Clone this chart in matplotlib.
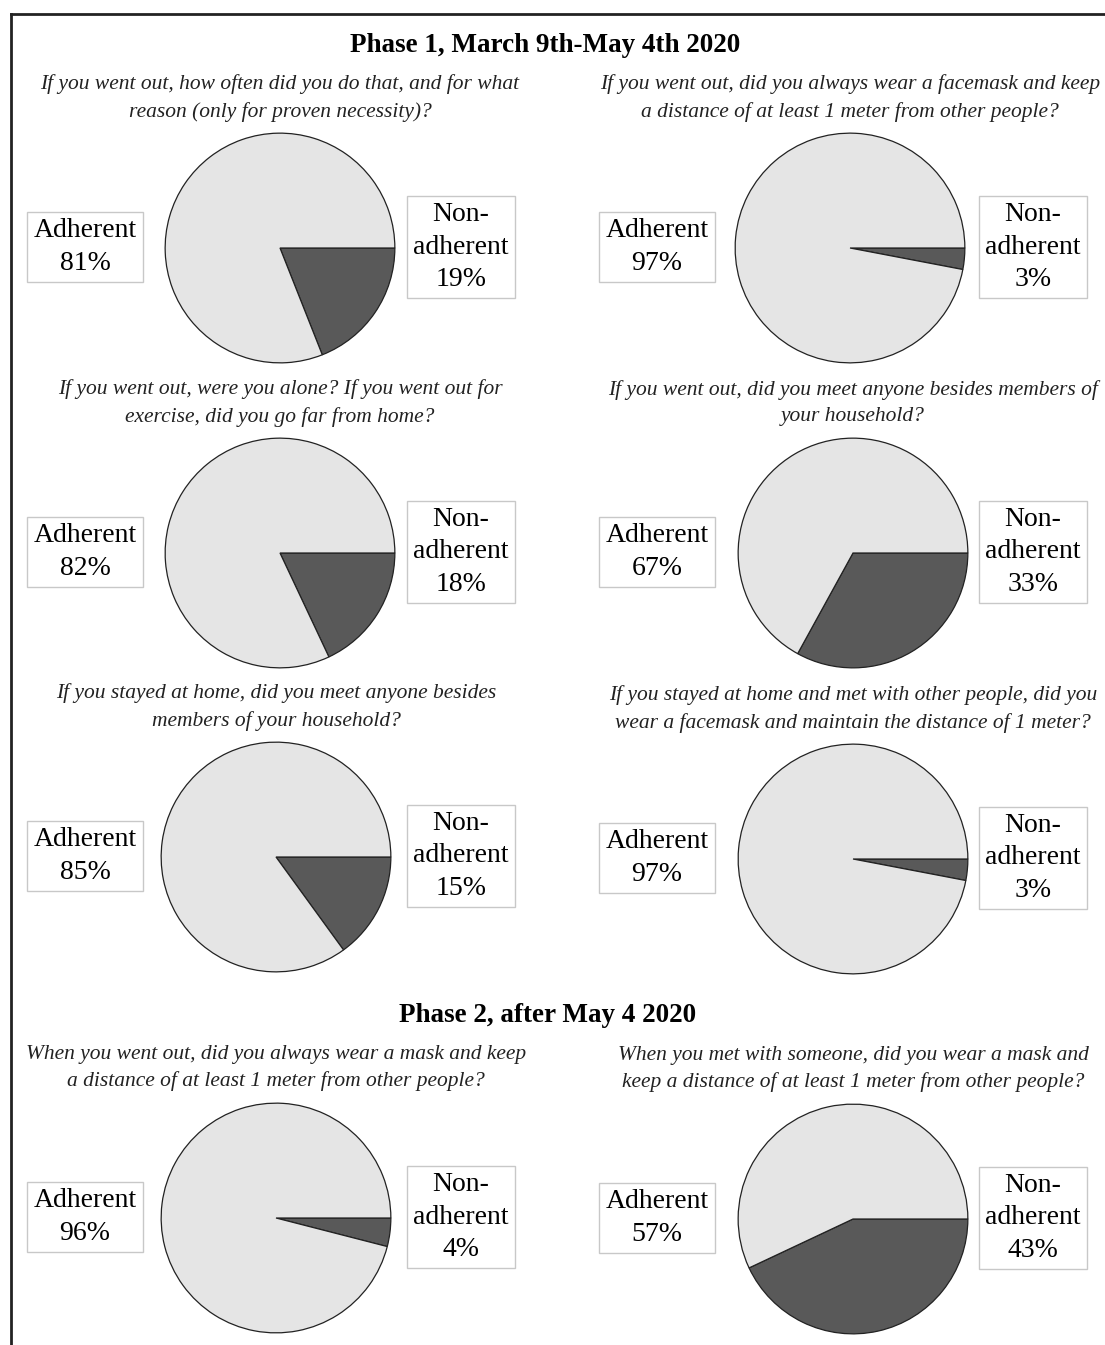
import matplotlib
matplotlib.use('Agg')
import matplotlib.pyplot as plt
from matplotlib.lines import Line2D

# survey questions, left to right, top to bottom
questions = [
    'If you went out, how often did you do that, and for what\nreason (only for proven necessity)?',
    'If you went out, did you always wear a facemask and keep\na distance of at least 1 meter from other people?',
    'If you went out, were you alone? If you went out for\nexercise, did you go far from home?',
    'If you went out, did you meet anyone besides members of\nyour household?',
    'If you stayed at home, did you meet anyone besides\nmembers of your household?',
    'If you stayed at home and met with other people, did you\nwear a facemask and maintain the distance of 1 meter?',
    'When you went out, did you always wear a mask and keep\na distance of at least 1 meter from other people?',
    'When you met with someone, did you wear a mask and\nkeep a distance of at least 1 meter from other people?',
]
adherent = [81, 97, 82, 67, 85, 97, 96, 57]
non_adherent = [19, 3, 18, 33, 15, 3, 4, 43]
phase_titles = ['Phase 1, March 9th-May 4th 2020', 'Phase 2, after May 4 2020']

W, H = 1105, 1345
fig = plt.figure(figsize=(W / 100, H / 100), dpi=100)
fig.patch.set_facecolor('white')

def fx(x):
    return x / W

def fy(y):
    return 1 - y / H

# frame lines (left and top only, like the cropped original)
fig.add_artist(Line2D([fx(11), fx(11)], [fy(14), 0], color='#222222', lw=2))
fig.add_artist(Line2D([fx(11), 1], [fy(14), fy(14)], color='#222222', lw=2))

serif = 'Liberation Serif'
fig.text(fx(545), fy(45), phase_titles[0], ha='center', va='center',
         fontsize=19.5, fontweight='bold', family=serif)
fig.text(fx(548), fy(1016), phase_titles[1], ha='center', va='center',
         fontsize=19.5, fontweight='bold', family=serif)

# pie centres in pixels
centres = [(280, 248), (850, 248), (280, 553), (853, 553),
           (276, 857), (853, 859), (276, 1218), (853, 1219)]
R = 116
dark, light = '#595959', '#e5e5e5'
box = dict(boxstyle='square,pad=0.24', fc='white', ec='#c8c8c8', lw=1)

for i, (cx, cy) in enumerate(centres):
    ax = fig.add_axes([fx(cx - R), fy(cy + R), 2 * R / W, 2 * R / H])
    ax.pie([non_adherent[i], adherent[i]], colors=[dark, light],
           startangle=0, counterclock=False,
           wedgeprops=dict(edgecolor='#222222', linewidth=0.9))
    ax.set_xlim(-1.01, 1.01)
    ax.set_ylim(-1.01, 1.01)
    ax.axis('off')

    fig.text(fx(cx), fy(cy - 150), questions[i], ha='center', va='center',
             fontsize=15.5, style='italic', family=serif, linespacing=1.5,
             color='#222222')

    left = i % 2 == 0
    ax_x = 85 if left else 657
    na_x = 461 if left else 1033
    fig.text(fx(ax_x), fy(cy - 1), f'Adherent\n{adherent[i]}%', ha='center',
             va='center', fontsize=20, family=serif, linespacing=1.38, bbox=box)
    fig.text(fx(na_x), fy(cy - 1), f'Non-\nadherent\n{non_adherent[i]}%',
             ha='center', va='center', fontsize=20, family=serif,
             linespacing=1.38, bbox=box)

fig.savefig('out.png', dpi=100)
